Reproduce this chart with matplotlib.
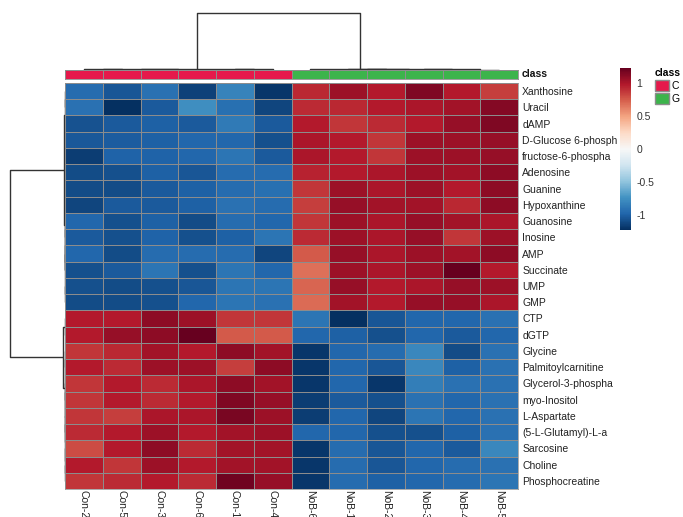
import numpy as np
import matplotlib.pyplot as plt
from matplotlib.colors import ListedColormap
from matplotlib.patches import Patch

plt.rcParams['font.family'] = ['Liberation Sans', 'DejaVu Sans']
plt.rcParams['font.size'] = 7.5

samples = ['Con-2', 'Con-5', 'Con-3', 'Con-6', 'Con-1', 'Con-4',
           'NoB-6', 'NoB-1', 'NoB-2', 'NoB-3', 'NoB-4', 'NoB-5']
sample_class = [0, 0, 0, 0, 0, 0, 1, 1, 1, 1, 1, 1]
class_names = ['C', 'G']
class_colors = ['#e5194b', '#3cb44b']

metabolites = ['Xanthosine', 'Uracil', 'dAMP', 'D-Glucose 6-phosph',
               'fructose-6-phospha', 'Adenosine', 'Guanine', 'Hypoxanthine',
               'Guanosine', 'Inosine', 'AMP', 'Succinate', 'UMP', 'GMP',
               'CTP', 'dGTP', 'Glycine', 'Palmitoylcarnitine',
               'Glycerol-3-phospha', 'myo-Inositol', 'L-Aspartate',
               '(5-L-Glutamyl)-L-a', 'Sarcosine', 'Choline', 'Phosphocreatine']

# scaled values, control samples
con_vals = [
    [-0.95, -1.05, -0.92, -1.15, -0.82, -1.20],
    [-0.92, -1.23, -1.03, -0.76, -0.93, -1.13],
    [-1.07, -1.03, -1.00, -1.03, -0.87, -1.03],
    [-1.04, -1.02, -1.00, -0.98, -0.98, -1.08],
    [-1.17, -0.99, -0.99, -0.98, -0.90, -1.03],
    [-1.10, -1.08, -1.00, -1.05, -0.95, -0.95],
    [-1.10, -1.10, -1.03, -1.00, -0.95, -0.93],
    [-1.13, -1.03, -1.03, -1.00, -0.92, -0.95],
    [-0.98, -1.08, -1.00, -1.10, -0.95, -0.98],
    [-1.03, -1.08, -0.99, -1.08, -1.00, -0.90],
    [-0.98, -1.10, -0.95, -0.95, -0.95, -1.13],
    [-1.08, -1.03, -0.90, -1.08, -0.90, -0.98],
    [-1.08, -1.10, -1.08, -1.05, -0.90, -0.90],
    [-1.10, -1.10, -1.08, -0.98, -0.90, -0.92],
    [0.98, 0.98, 1.10, 1.05, 0.88, 0.88],
    [0.98, 1.07, 1.10, 1.23, 0.75, 0.75],
    [0.88, 0.93, 1.03, 0.98, 1.10, 1.03],
    [0.98, 0.92, 1.05, 1.05, 0.85, 1.10],
    [0.88, 0.98, 0.92, 1.00, 1.10, 1.03],
    [0.88, 0.98, 0.92, 0.98, 1.15, 1.07],
    [0.88, 0.85, 1.00, 1.00, 1.17, 1.05],
    [0.92, 0.98, 1.05, 0.98, 1.03, 1.05],
    [0.80, 0.98, 1.10, 0.92, 1.03, 1.03],
    [0.98, 0.88, 1.05, 0.98, 1.03, 1.03],
    [0.88, 0.92, 0.98, 0.92, 1.20, 1.07],
]

# scaled values, NoB samples
nob_vals = [
    [0.93, 1.05, 0.98, 1.15, 0.98, 0.85],
    [0.92, 0.93, 0.98, 1.00, 1.03, 1.13],
    [0.98, 0.88, 0.92, 0.98, 1.07, 1.15],
    [1.00, 0.98, 0.88, 1.05, 1.05, 1.07],
    [1.00, 0.98, 0.88, 1.05, 1.05, 1.07],
    [0.95, 0.98, 1.00, 1.05, 1.03, 1.10],
    [0.88, 1.05, 1.00, 1.05, 0.98, 1.10],
    [0.85, 1.07, 1.03, 1.03, 0.93, 1.10],
    [0.88, 1.05, 1.00, 1.07, 1.03, 1.00],
    [0.92, 1.05, 1.00, 1.07, 0.88, 1.05],
    [0.75, 1.07, 1.00, 1.05, 1.03, 1.10],
    [0.68, 1.05, 1.00, 1.05, 1.23, 0.98],
    [0.72, 1.07, 0.98, 1.00, 1.07, 1.05],
    [0.70, 1.03, 0.98, 1.07, 1.07, 1.00],
    [-0.90, -1.23, -1.05, -0.98, -0.98, -0.92],
    [-0.98, -1.00, -1.08, -0.98, -1.03, -0.98],
    [-1.20, -0.98, -0.95, -0.80, -1.10, -0.92],
    [-1.20, -0.98, -1.05, -0.80, -1.00, -0.92],
    [-1.20, -0.98, -1.20, -0.85, -0.92, -0.92],
    [-1.17, -1.03, -1.08, -0.92, -0.98, -0.92],
    [-1.17, -0.98, -1.13, -0.90, -0.98, -0.92],
    [-0.98, -0.98, -1.08, -1.08, -1.00, -0.92],
    [-1.20, -0.95, -1.05, -0.98, -1.03, -0.80],
    [-1.20, -0.95, -1.05, -0.98, -0.95, -0.92],
    [-1.20, -0.95, -1.00, -0.98, -0.95, -0.90],
]

# dendrograms as nested (left, right, height); ints are leaf indices
col_tree = ((((0, 1, 0.012), (2, 3, 0.008), 0.022), (4, 5, 0.015), 0.026),
            (6, ((7, 8, 0.01), (9, (10, 11, 0.008), 0.014), 0.018), 0.026),
            1.0)
row_tree = ((((0, 1, 0.004), (2, 3, 0.004), 0.006),
             (((4, 5, 0.003), (6, 7, 0.003), 0.005),
              (((8, 9, 0.003), (10, 11, 0.003), 0.005), (12, 13, 0.004), 0.006),
              0.008),
             0.012),
            ((14, 15, 0.008),
             ((16, 17, 0.006),
              ((18, 19, 0.005),
               ((20, 21, 0.004), (22, (23, 24, 0.003), 0.004), 0.005), 0.006),
              0.008),
             0.03),
            1.0)

vlim = 1.23
grid_col = '#8c8c8c'
line_col = '#333333'


def draw_tree(ax, node, side):
    if isinstance(node, int):
        return node + 0.5, 0.0
    left, right, h = node
    p1, h1 = draw_tree(ax, left, side)
    p2, h2 = draw_tree(ax, right, side)
    pos = [p1, p1, p2, p2]
    hts = [h1, h, h, h2]
    if side == 'top':
        ax.plot(pos, hts, color=line_col, lw=1.0, solid_capstyle='butt')
    else:
        ax.plot(hts, pos, color=line_col, lw=1.0, solid_capstyle='butt')
    return (p1 + p2) / 2, h


W, H = 683, 517
fig = plt.figure(figsize=(W / 100, H / 100), dpi=100)


def px_axes(x0, y0, x1, y1):
    return fig.add_axes([x0 / W, 1 - y1 / H, (x1 - x0) / W, (y1 - y0) / H])


data = np.hstack([np.array(con_vals), np.array(nob_vals)])

# main heatmap
ax = px_axes(65, 83, 518, 489)
mesh = ax.pcolormesh(data, cmap='RdBu_r', vmin=-vlim, vmax=vlim,
                     edgecolors=grid_col, linewidth=0.5)
ax.set_xlim(0, len(samples))
ax.set_ylim(len(metabolites), 0)
ax.set_xticks(np.arange(len(samples)) + 0.5)
ax.set_xticklabels(samples, rotation=-90, color='#222222')
ax.set_yticks(np.arange(len(metabolites)) + 0.5)
ax.set_yticklabels(metabolites, color='#222222')
ax.yaxis.tick_right()
ax.tick_params(axis='y', length=0, pad=3)
ax.tick_params(axis='x', length=0, pad=0.5)
for s in ax.spines.values():
    s.set_color(grid_col)
    s.set_linewidth(0.5)

# class annotation bar
axc = px_axes(65, 70, 518, 78.5)
axc.pcolormesh([sample_class], cmap=ListedColormap(class_colors), vmin=0, vmax=1,
               edgecolors=grid_col, linewidth=0.5)
axc.set_xlim(0, len(samples))
axc.set_xticks([])
axc.set_yticks([])
for s in axc.spines.values():
    s.set_color(grid_col)
    s.set_linewidth(0.6)
axc.text(1.008, 0.5, 'class', transform=axc.transAxes, va='center',
         ha='left', fontweight='bold', color='#111111')

# column dendrogram
axt = px_axes(65, 10, 518, 70)
draw_tree(axt, col_tree, 'top')
axt.set_xlim(0, len(samples))
axt.set_ylim(0, 1.05)
axt.axis('off')

# row dendrogram
axl = px_axes(7, 83, 65, 489)
draw_tree(axl, row_tree, 'left')
axl.set_ylim(len(metabolites), 0)
axl.set_xlim(1.055, 0)
axl.axis('off')

# colour key
cax = px_axes(620, 68, 631, 230)
cb = fig.colorbar(mesh, cax=cax, ticks=[-1, -0.5, 0, 0.5, 1])
cb.ax.set_yticklabels(['-1', '-0.5', '0', '0.5', '1'], color='#333333')
cb.ax.tick_params(length=0, pad=4)
cb.outline.set_visible(False)

# class legend
handles = [Patch(facecolor=c, edgecolor=grid_col, label=n)
           for c, n in zip(class_colors, class_names)]
leg = fig.legend(handles=handles, title='class', loc='upper left',
                 bbox_to_anchor=(655 / W, 1 - 68 / H), frameon=False,
                 handlelength=1.3, handleheight=1.2, handletextpad=0.3,
                 labelspacing=0.2, borderaxespad=0, borderpad=0)
leg.get_title().set_fontweight('bold')
leg._legend_box.align = 'left'

fig.savefig('out.png', dpi=100)
